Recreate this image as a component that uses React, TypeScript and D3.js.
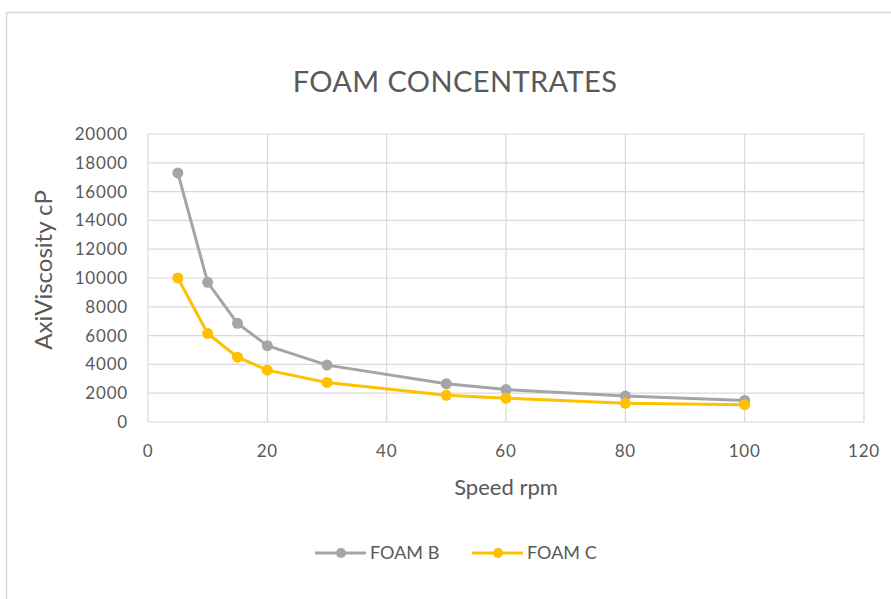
import React, { useRef, useEffect } from "react";
import * as d3 from "d3";

const speeds = [5, 10, 15, 20, 30, 50, 60, 80, 100];
const foamB = [17300, 9700, 6850, 5300, 3950, 2650, 2250, 1800, 1500];
const foamC = [10000, 6150, 4500, 3600, 2750, 1850, 1650, 1300, 1200];
const seriesNames = ["FOAM B", "FOAM C"];
const seriesColors = ["#a5a5a5", "#ffc000"];

const App = () => {
  const svgRef = useRef<SVGSVGElement>(null);

  useEffect(() => {
    const width = 891;
    const height = 599;
    const svg = d3.select(svgRef.current).attr("width", width).attr("height", height);
    svg.selectAll("*").remove();

    const font = "Lato, 'Open Sans', sans-serif";
    const textColor = "#595959";

    // chart frame
    svg
      .append("rect")
      .attr("x", 6.5)
      .attr("y", 12.5)
      .attr("width", 900)
      .attr("height", 600)
      .attr("fill", "#fff")
      .attr("stroke", "#d9d9d9")
      .attr("stroke-width", 1.5);

    const x = d3.scaleLinear().domain([0, 120]).range([148, 864]);
    const y = d3.scaleLinear().domain([0, 20000]).range([422, 134]);

    const g = svg.append("g");

    // gridlines
    g.selectAll(".hgrid")
      .data(d3.range(0, 20001, 2000))
      .join("line")
      .attr("x1", x(0))
      .attr("x2", x(120))
      .attr("y1", (d) => y(d))
      .attr("y2", (d) => y(d))
      .attr("stroke", "#d9d9d9")
      .attr("stroke-width", 1.2);

    g.selectAll(".vgrid")
      .data(d3.range(0, 121, 20))
      .join("line")
      .attr("x1", (d) => x(d))
      .attr("x2", (d) => x(d))
      .attr("y1", y(0))
      .attr("y2", y(20000))
      .attr("stroke", "#d9d9d9")
      .attr("stroke-width", 1.2);

    // tick labels
    g.selectAll(".ylab")
      .data(d3.range(0, 20001, 2000))
      .join("text")
      .attr("x", x(0) - 20)
      .attr("y", (d) => y(d))
      .attr("dy", "0.35em")
      .attr("text-anchor", "end")
      .attr("font-family", font)
      .attr("font-size", 17)
      .attr("letter-spacing", 0.8)
      .attr("fill", textColor)
      .text((d) => d);

    g.selectAll(".xlab")
      .data(d3.range(0, 121, 20))
      .join("text")
      .attr("x", (d) => x(d))
      .attr("y", 457)
      .attr("text-anchor", "middle")
      .attr("font-family", font)
      .attr("font-size", 17)
      .attr("letter-spacing", 0.8)
      .attr("fill", textColor)
      .text((d) => d);

    // title and axis titles
    svg
      .append("text")
      .attr("x", 455)
      .attr("y", 92)
      .attr("text-anchor", "middle")
      .attr("font-family", font)
      .attr("font-size", 29)
      .attr("letter-spacing", 0.4)
      .attr("fill", textColor)
      .text("FOAM CONCENTRATES");

    svg
      .append("text")
      .attr("transform", `translate(52,270) rotate(-90)`)
      .attr("text-anchor", "middle")
      .attr("font-family", font)
      .attr("font-size", 24)
      .attr("fill", textColor)
      .text("AxiViscosity cP");

    svg
      .append("text")
      .attr("x", 506)
      .attr("y", 495)
      .attr("text-anchor", "middle")
      .attr("font-family", font)
      .attr("font-size", 22)
      .attr("fill", textColor)
      .text("Speed rpm");

    // series
    const line = d3
      .line<[number, number]>()
      .x((d) => x(d[0]))
      .y((d) => y(d[1]));

    [foamB, foamC].forEach((vals, i) => {
      const pts: [number, number][] = speeds.map((s, j) => [s, vals[j]]);
      g.append("path")
        .datum(pts)
        .attr("d", line)
        .attr("fill", "none")
        .attr("stroke", seriesColors[i])
        .attr("stroke-width", 3);
      g.selectAll(`.pt${i}`)
        .data(pts)
        .join("circle")
        .attr("cx", (d) => x(d[0]))
        .attr("cy", (d) => y(d[1]))
        .attr("r", 5.5)
        .attr("fill", seriesColors[i]);
    });

    // legend
    const legendX = [315, 472];
    seriesNames.forEach((name, i) => {
      const lg = svg.append("g").attr("transform", `translate(${legendX[i]},553)`);
      lg.append("line")
        .attr("x1", 0)
        .attr("x2", 51)
        .attr("stroke", seriesColors[i])
        .attr("stroke-width", 3);
      lg.append("circle").attr("cx", 26).attr("r", 5).attr("fill", seriesColors[i]);
      lg.append("text")
        .attr("x", 55)
        .attr("dy", "0.35em")
        .attr("font-family", font)
        .attr("font-size", 18)
        .attr("fill", textColor)
        .text(name);
    });
  }, []);

  return (
    <svg
      ref={svgRef}
      style={{ position: "absolute", left: 0, top: 0, display: "block" }}
    ></svg>
  );
};

export default App;
